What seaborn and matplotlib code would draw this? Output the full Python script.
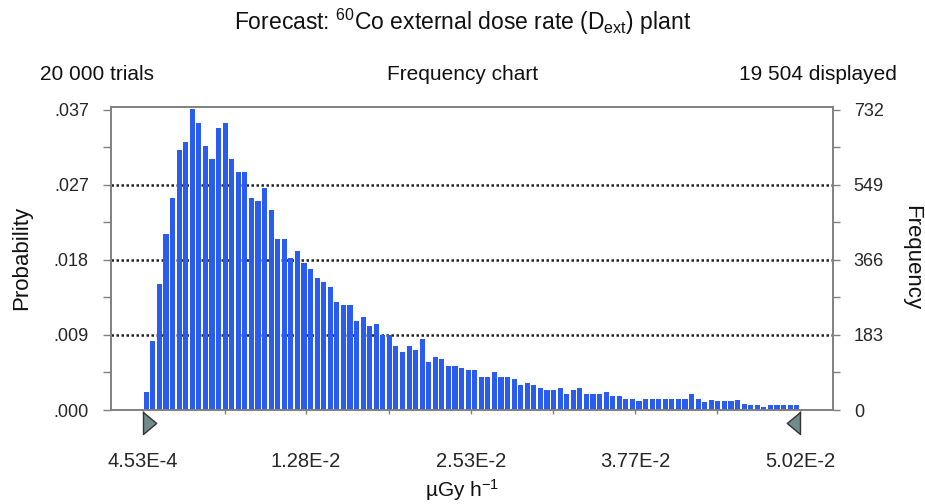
import numpy as np
import pandas as pd
import matplotlib
matplotlib.use("Agg")
import matplotlib.pyplot as plt
import seaborn as sns
from matplotlib.path import Path
from matplotlib.ticker import MultipleLocator

# frequency per bin (100 bins)
counts = [43, 168, 308, 430, 516, 634, 653, 735, 701, 644,
          612, 688, 701, 612, 580, 580, 516, 510, 541, 489,
          418, 418, 371, 387, 359, 345, 322, 311, 301, 264,
          257, 257, 216, 226, 206, 210, 184, 184, 157, 141,
          157, 146, 174, 118, 130, 125, 108, 108, 102, 97,
          97, 80, 80, 92, 80, 80, 76, 60, 65, 60,
          53, 49, 49, 53, 38, 49, 53, 38, 38, 38,
          43, 33, 33, 28, 28, 22, 28, 28, 28, 28,
          28, 28, 28, 39, 26, 20, 25, 22, 22, 22,
          25, 14, 13, 13, 8, 13, 13, 13, 13, 13]
x_min = 4.53e-4
x_max = 5.02e-2
x_tick_labels = ["4.53E-4", "1.28E-2", "2.53E-2", "3.77E-2", "5.02E-2"]
freq_ticks = [0, 183, 366, 549, 732]
n_trials = 20000
n_displayed = 19504

sns.set_theme(style="white")
plt.rcParams["font.family"] = ["Liberation Sans", "DejaVu Sans"]
plt.rcParams["mathtext.fontset"] = "custom"
plt.rcParams["mathtext.rm"] = "Liberation Sans"
plt.rcParams["mathtext.it"] = "Liberation Sans:italic"
plt.rcParams["text.color"] = "#111111"

edges = np.linspace(x_min, x_max, len(counts) + 1)
centers = (edges[:-1] + edges[1:]) / 2
df = pd.DataFrame({"dose": centers, "freq": counts})

fig = plt.figure(figsize=(9.25, 5.04), dpi=100)
ax = fig.add_axes([0.12, 0.1865, 0.7805, 0.6012])

# bins passed as a list: seaborn chokes on an array here when weights are given
sns.histplot(data=df, x="dose", weights="freq", bins=list(edges), shrink=0.78,
             color="#2b5cf2", alpha=1, linewidth=0, ax=ax)

# axis ranges (frame a little wider than the data range)
px = (x_max - x_min) / 657
ax.set_xlim(x_min - 32 * px, x_max + 33 * px)
ax.set_ylim(0, 739)
ax.set_xlabel("")
ax.set_ylabel("")

# dotted gridlines behind the bars
ax.set_axisbelow(True)
for v in freq_ticks[1:-1]:
    ax.axhline(v, color="#222222", lw=1.8, linestyle=(0, (1, 1)), zorder=0)

# left: probability
ax.set_yticks(freq_ticks)
ax.set_yticklabels([f"{v / n_trials:.3f}".lstrip("0") for v in freq_ticks])
ax.yaxis.set_minor_locator(MultipleLocator(freq_ticks[1] / 2))
ax.tick_params(axis="y", which="both", left=True, direction="out",
               length=6, width=1, color="#808080", pad=10, labelsize=13)

# bottom ticks
tick_pos = [float(t) for t in x_tick_labels]
ax.set_xticks(tick_pos)
ax.set_xticklabels(x_tick_labels)
ax.set_xticks([(a + b) / 2 for a, b in zip(tick_pos[:-1], tick_pos[1:])], minor=True)
ax.tick_params(axis="x", which="both", bottom=True, direction="out",
               length=3, width=1, color="#808080", pad=27, labelsize=14.5)

for s in ax.spines.values():
    s.set_color("#808080")
    s.set_linewidth(1.2)

# right: frequency
ax2 = ax.twinx()
ax2.set_ylim(ax.get_ylim())
ax2.set_yticks(freq_ticks)
ax2.set_yticklabels([str(v) for v in freq_ticks])
ax2.yaxis.set_minor_locator(MultipleLocator(freq_ticks[1] / 2))
ax2.tick_params(axis="y", which="both", right=True, direction="out",
                length=5, width=1, color="#808080", pad=10, labelsize=13)
for s in ax2.spines.values():
    s.set_color("#808080")
    s.set_linewidth(1.2)

# range markers under the axis
tri_r = Path([(0, 1), (0, -1), (1.2, 0), (0, 1)])
tri_l = Path([(0, 1), (0, -1), (-1.2, 0), (0, 1)])
tr = ax.get_xaxis_transform()
ax.plot([x_min], [-0.043], marker=tri_r, markersize=19, color="#6f8c8a",
        markeredgecolor="#333333", markeredgewidth=1, transform=tr, clip_on=False)
ax.plot([x_max], [-0.043], marker=tri_l, markersize=19, color="#6f8c8a",
        markeredgecolor="#333333", markeredgewidth=1, transform=tr, clip_on=False)

# texts
fig.text(0.5, 1 - 22 / 504, r"Forecast: $^{60}$Co external dose rate (D$_{\mathrm{ext}}$) plant",
         ha="center", va="center", fontsize=16.5)
fig.text(40 / 925, 1 - 75 / 504, f"{n_trials:,}".replace(",", " ") + " trials",
         ha="left", va="center", fontsize=15)
fig.text(0.5, 1 - 75 / 504, "Frequency chart", ha="center", va="center", fontsize=15)
fig.text(897 / 925, 1 - 75 / 504, f"{n_displayed:,}".replace(",", " ") + " displayed",
         ha="right", va="center", fontsize=15)
fig.text(22 / 925, 1 - 258 / 504, "Probability", rotation=90,
         ha="center", va="center", fontsize=16)
fig.text(912 / 925, 1 - 258 / 504, "Frequency", rotation=-90,
         ha="center", va="center", fontsize=16)
fig.text(0.5, 1 - 490 / 504, r"µGy h$^{-1}$", ha="center", va="center", fontsize=15)

fig.savefig("out.png", dpi=100)
